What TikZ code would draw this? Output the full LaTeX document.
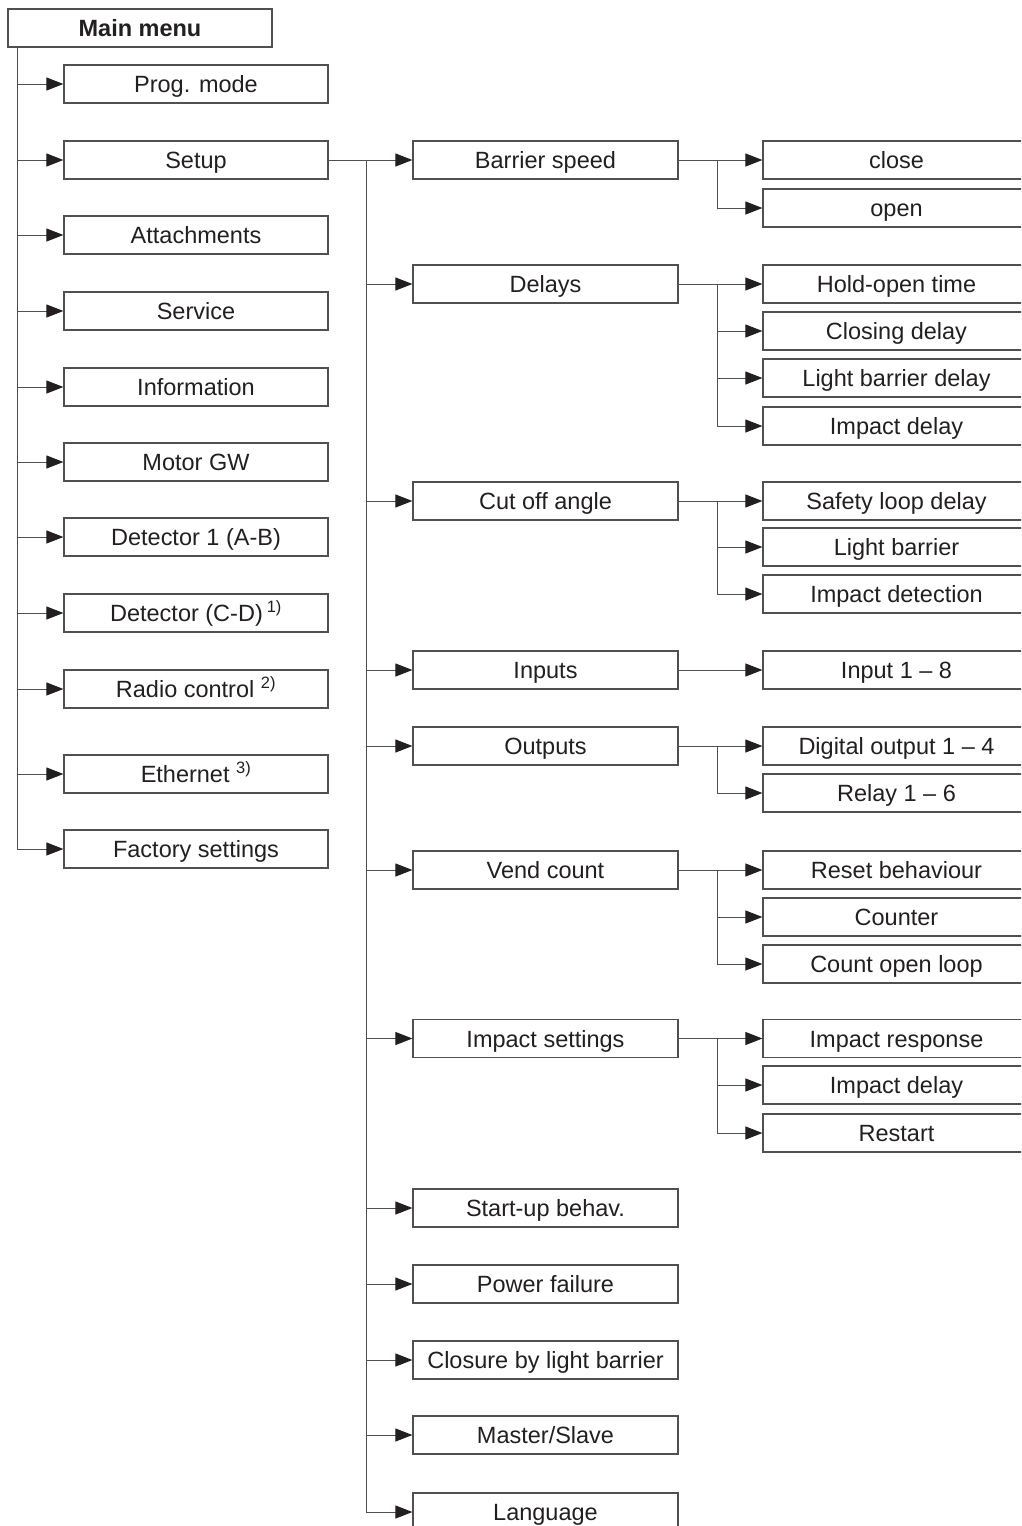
\documentclass[tikz,border=0pt]{standalone}
\usepackage{fontspec}
\setmainfont{Liberation Sans}
\usepackage{xcolor}
\usepackage{tikz}
\usetikzlibrary{arrows.meta, positioning, calc}
\definecolor{linecolor}{RGB}{80,80,80}
\definecolor{textcolor}{RGB}{35,31,32}

\begin{document}
\begin{tikzpicture}[
    x=1pt, y=-1pt,
    >={Triangle[length=17pt, width=13pt, fill=textcolor, color=textcolor]},
    menubox/.style={draw=linecolor, line width=1.2pt, minimum height=38pt, inner sep=0pt, text height=17pt, text depth=0pt, text=textcolor, font=\fontsize{23.5}{28}\selectfont},
    leftbox/.style={menubox, minimum width=264pt},
    midbox/.style={menubox, minimum width=265pt},
    rightbox/.style={menubox, minimum width=267pt},
    conn/.style={->, draw=linecolor, line width=1pt},
]
    \useasboundingbox (0,0) rectangle (1021,1526);
    \clip (0,0) rectangle (1021,1526);

    % main menu and first level
    \node[menubox, minimum width=264pt, font=\fontsize{23.5}{28}\selectfont\bfseries] (main) at (140,28) {Main menu};
    \coordinate (trunk) at (17,47);

    \node[leftbox] (prog) at (196,84) {Prog. mode};
    \node[leftbox] (setup) at (196,160) {Setup};
    \node[leftbox] (attach) at (196,235) {Attachments};
    \node[leftbox] (service) at (196,311) {Service};
    \node[leftbox] (info) at (196,387) {Information};
    \node[leftbox] (motor) at (196,462) {Motor GW};
    \node[leftbox] (det1) at (196,537) {Detector 1 (A-B)};
    \node[leftbox] (det2) at (196,613) {Detector (C-D)\,\textsuperscript{1)}};
    \node[leftbox] (radio) at (196,689) {Radio control \textsuperscript{2)}};
    \node[leftbox] (eth) at (196,774) {Ethernet \textsuperscript{3)}};
    \node[leftbox] (factory) at (196,849) {Factory settings};

    \draw[conn] (trunk) |- (prog.west);
    \draw[conn] (trunk) |- (setup.west);
    \draw[conn] (trunk) |- (attach.west);
    \draw[conn] (trunk) |- (service.west);
    \draw[conn] (trunk) |- (info.west);
    \draw[conn] (trunk) |- (motor.west);
    \draw[conn] (trunk) |- (det1.west);
    \draw[conn] (trunk) |- (det2.west);
    \draw[conn] (trunk) |- (radio.west);
    \draw[conn] (trunk) |- (eth.west);
    \draw[conn] (trunk) |- (factory.west);

    % setup submenu
    \node[midbox] (bspeed) at (545.5,160) {Barrier speed};
    \node[midbox] (delays) at (545.5,284) {Delays};
    \node[midbox] (cutoff) at (545.5,501) {Cut off angle};
    \node[midbox] (inputs) at (545.5,670) {Inputs};
    \node[midbox] (outputs) at (545.5,746) {Outputs};
    \node[midbox] (vend) at (545.5,870) {Vend count};
    \node[midbox] (impact) at (545.5,1038.5) {Impact settings};
    \node[midbox] (startup) at (545.5,1208) {Start-up behav.};
    \node[midbox] (power) at (545.5,1284) {Power failure};
    \node[midbox] (closure) at (545.5,1360) {Closure by light barrier};
    \node[midbox] (master) at (545.5,1435) {Master/Slave};
    \node[midbox] (lang) at (545.5,1512) {Language};

    \coordinate (midj) at (366,160);
    \draw[conn] (setup.east) -- (bspeed.west);
    \draw[conn] (midj) |- (delays.west);
    \draw[conn] (midj) |- (cutoff.west);
    \draw[conn] (midj) |- (inputs.west);
    \draw[conn] (midj) |- (outputs.west);
    \draw[conn] (midj) |- (vend.west);
    \draw[conn] (midj) |- (impact.west);
    \draw[conn] (midj) |- (startup.west);
    \draw[conn] (midj) |- (power.west);
    \draw[conn] (midj) |- (closure.west);
    \draw[conn] (midj) |- (master.west);
    \draw[conn] (midj) |- (lang.west);

    % third level
    \coordinate (rj) at (717,0);

    \node[rightbox] (close) at (896.5,160) {close};
    \node[rightbox] (open) at (896.5,208) {open};
    \draw[conn] (bspeed.east) -- (close.west);
    \draw[conn] (bspeed.east -| rj) |- (open.west);

    \node[rightbox] (holdopen) at (896.5,284) {Hold-open time};
    \node[rightbox] (closedelay) at (896.5,331) {Closing delay};
    \node[rightbox] (lbdelay) at (896.5,378) {Light barrier delay};
    \node[rightbox] (impdelay) at (896.5,426) {Impact delay};
    \draw[conn] (delays.east) -- (holdopen.west);
    \draw[conn] (delays.east -| rj) |- (closedelay.west);
    \draw[conn] (delays.east -| rj) |- (lbdelay.west);
    \draw[conn] (delays.east -| rj) |- (impdelay.west);

    \node[rightbox] (safety) at (896.5,501) {Safety loop delay};
    \node[rightbox] (lbarrier) at (896.5,547) {Light barrier};
    \node[rightbox] (impdetect) at (896.5,594) {Impact detection};
    \draw[conn] (cutoff.east) -- (safety.west);
    \draw[conn] (cutoff.east -| rj) |- (lbarrier.west);
    \draw[conn] (cutoff.east -| rj) |- (impdetect.west);

    \node[rightbox] (input) at (896.5,670) {Input 1 -- 8};
    \draw[conn] (inputs.east) -- (input.west);

    \node[rightbox] (digout) at (896.5,746) {Digital output 1 -- 4};
    \node[rightbox] (relay) at (896.5,793) {Relay 1 -- 6};
    \draw[conn] (outputs.east) -- (digout.west);
    \draw[conn] (outputs.east -| rj) |- (relay.west);

    \node[rightbox] (reset) at (896.5,870) {Reset behaviour};
    \node[rightbox] (counter) at (896.5,917) {Counter};
    \node[rightbox] (countloop) at (896.5,964) {Count open loop};
    \draw[conn] (vend.east) -- (reset.west);
    \draw[conn] (vend.east -| rj) |- (counter.west);
    \draw[conn] (vend.east -| rj) |- (countloop.west);

    \node[rightbox] (impresp) at (896.5,1038.5) {Impact response};
    \node[rightbox] (impdelay2) at (896.5,1085) {Impact delay};
    \node[rightbox] (restart) at (896.5,1133) {Restart};
    \draw[conn] (impact.east) -- (impresp.west);
    \draw[conn] (impact.east -| rj) |- (impdelay2.west);
    \draw[conn] (impact.east -| rj) |- (restart.west);
\end{tikzpicture}
\end{document}
